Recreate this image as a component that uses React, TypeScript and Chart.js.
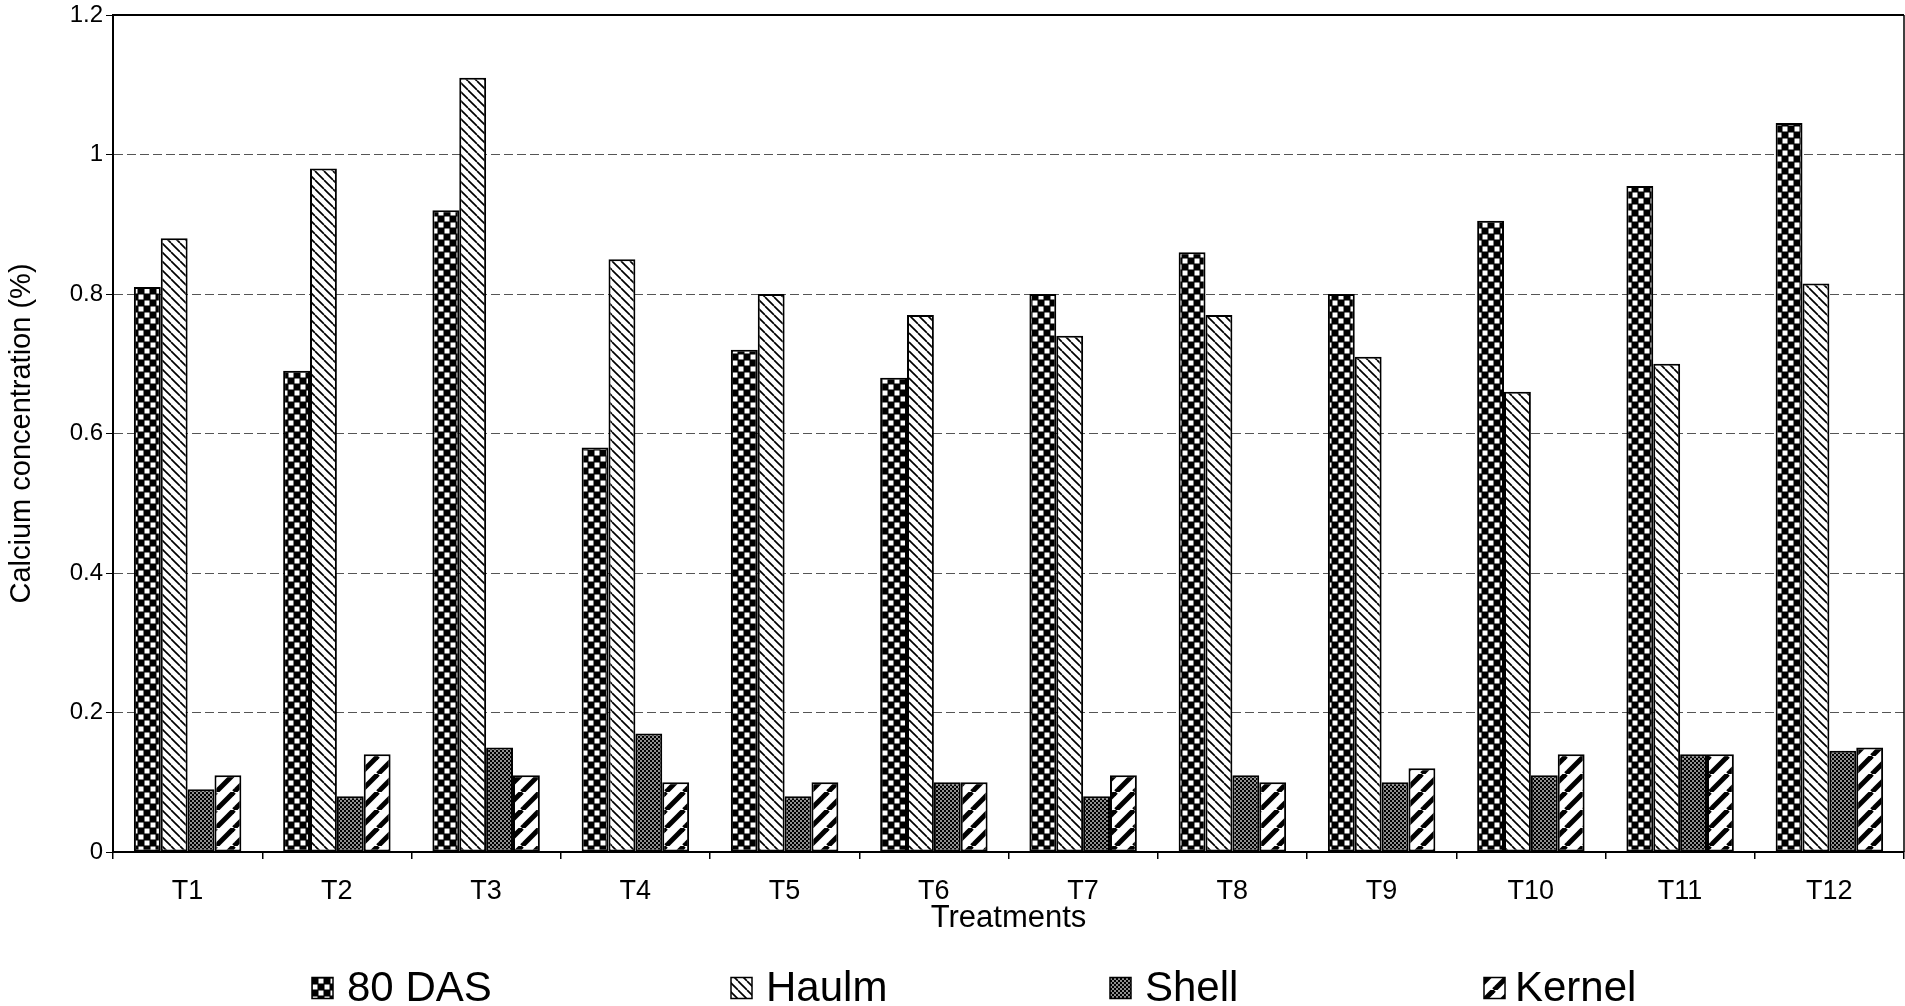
import React, { useEffect, useRef } from 'react';
import { Chart, registerables } from 'chart.js';

Chart.register(...registerables);

// Calcium concentration (%) per treatment and plant part
const treatments = ['T1', 'T2', 'T3', 'T4', 'T5', 'T6', 'T7', 'T8', 'T9', 'T10', 'T11', 'T12'];
const seriesNames = ['80 DAS', 'Haulm', 'Shell', 'Kernel'];
const das80 = [0.81, 0.69, 0.92, 0.58, 0.72, 0.68, 0.8, 0.86, 0.8, 0.905, 0.955, 1.045];
const haulm = [0.88, 0.98, 1.11, 0.85, 0.8, 0.77, 0.74, 0.77, 0.71, 0.66, 0.7, 0.815];
const shell = [0.09, 0.08, 0.15, 0.17, 0.08, 0.1, 0.08, 0.11, 0.1, 0.11, 0.14, 0.145];
const kernel = [0.11, 0.14, 0.11, 0.1, 0.1, 0.1, 0.11, 0.1, 0.12, 0.14, 0.14, 0.15];
const yMin = 0;
const yMax = 1.2;
const yStep = 0.2;

const FONT = '"Liberation Sans", Arial, Helvetica, sans-serif';

type PatternKind = 'checker' | 'back' | 'fine' | 'fwd';

function makePattern(kind: PatternKind): CanvasPattern {
  const c = document.createElement('canvas');
  const g = c.getContext('2d')!;
  if (kind === 'checker') {
    const s = 12;
    c.width = s; c.height = s;
    g.fillStyle = '#000';
    g.fillRect(0, 0, s, s);
    g.fillStyle = '#fff';
    g.fillRect(0.5, 0.5, 5, 5);
    g.fillRect(6.5, 6.5, 5, 5);
  } else if (kind === 'back') {
    const s = 9;
    c.width = s; c.height = s;
    g.fillStyle = '#fff';
    g.fillRect(0, 0, s, s);
    g.strokeStyle = '#000';
    g.lineWidth = 1.7;
    for (const k of [-s, 0, s]) {
      g.beginPath();
      g.moveTo(k, 0);
      g.lineTo(k + s, s);
      g.stroke();
    }
  } else if (kind === 'fine') {
    const s = 4;
    c.width = s; c.height = s;
    g.fillStyle = '#000';
    g.fillRect(0, 0, s, s);
    g.fillStyle = '#fff';
    g.fillRect(0.25, 0.25, 1.5, 1.5);
    g.fillRect(2.25, 2.25, 1.5, 1.5);
  } else {
    const s = 18;
    c.width = s; c.height = s;
    g.fillStyle = '#fff';
    g.fillRect(0, 0, s, s);
    g.strokeStyle = '#000';
    g.lineWidth = 5;
    for (const k of [-s, 0, s]) {
      g.beginPath();
      g.moveTo(k, s);
      g.lineTo(k + s, 0);
      g.stroke();
    }
  }
  return g.createPattern(c, 'repeat')!;
}

export default function App() {
  const canvasRef = useRef<HTMLCanvasElement | null>(null);

  useEffect(() => {
    const canvas = canvasRef.current;
    if (!canvas) return;

    const fills = [
      makePattern('checker'),
      makePattern('back'),
      makePattern('fine'),
      makePattern('fwd'),
    ];
    const values = [das80, haulm, shell, kernel];

    // Frame around the plot (top and right edges)
    const framePlugin = {
      id: 'frame',
      afterDatasetsDraw(chart: any) {
        const { ctx, chartArea } = chart;
        ctx.save();
        ctx.strokeStyle = '#000';
        ctx.lineWidth = 2;
        ctx.beginPath();
        ctx.moveTo(chartArea.left, chartArea.top);
        ctx.lineTo(chartArea.right, chartArea.top);
        ctx.stroke();
        ctx.lineWidth = 1.5;
        ctx.beginPath();
        ctx.moveTo(chartArea.right, chartArea.top);
        ctx.lineTo(chartArea.right, chartArea.bottom);
        ctx.stroke();
        ctx.restore();
      },
    };

    // Legend row under the axis title
    const legendPlugin = {
      id: 'bottomLegend',
      afterDraw(chart: any) {
        const { ctx } = chart;
        const boxX = [312, 731, 1110, 1484];
        const gap = [14, 14, 14, 10];
        const cy = 988;
        const box = 21;
        ctx.save();
        ctx.font = `42px ${FONT}`;
        ctx.textBaseline = 'middle';
        ctx.textAlign = 'left';
        chart.data.datasets.forEach((ds: any, i: number) => {
          const x = boxX[i];
          ctx.fillStyle = ds.backgroundColor;
          ctx.fillRect(x, cy - box / 2, box, box);
          ctx.strokeStyle = '#000';
          ctx.lineWidth = 1.5;
          ctx.strokeRect(x, cy - box / 2, box, box);
          ctx.fillStyle = '#000';
          ctx.fillText(ds.label, x + box + gap[i], cy + 1);
        });
        ctx.restore();
      },
    };

    const chart = new Chart(canvas, {
      type: 'bar',
      data: {
        labels: treatments,
        datasets: seriesNames.map((name, i) => ({
          label: name,
          data: values[i],
          backgroundColor: fills[i] as any,
          borderColor: '#000',
          borderWidth: 2,
          borderSkipped: false,
          categoryPercentage: 0.72,
          barPercentage: 1.0,
        })),
      },
      options: {
        animation: false,
        responsive: false,
        devicePixelRatio: 1,
        layout: { padding: { top: 15, right: 1, bottom: 0, left: 0 } },
        plugins: {
          legend: { display: false },
          tooltip: { enabled: false },
        },
        scales: {
          x: {
            type: 'category',
            offset: true,
            grid: {
              display: true,
              offset: true,
              drawOnChartArea: false,
              drawTicks: true,
              tickLength: 7,
              color: '#000',
              tickColor: '#000',
              lineWidth: 1.5,
            },
            border: { display: true, color: '#000', width: 2 },
            ticks: {
              color: '#000',
              font: { family: FONT, size: 27 },
              padding: 16,
              maxRotation: 0,
              autoSkip: false,
            },
            title: {
              display: true,
              text: 'Treatments',
              color: '#000',
              font: { family: FONT, size: 31 },
              padding: { top: 0, bottom: 69 },
            },
            afterFit(scale: any) {
              scale.height = 1006 - 852;
              scale.paddingLeft = 0;
              scale.paddingRight = 0;
            },
          },
          y: {
            min: yMin,
            max: yMax,
            grid: {
              color: (c: any) => (c.tick && c.tick.value === 0 ? 'rgba(0,0,0,0)' : '#555'),
              tickColor: '#000',
              lineWidth: 1,
              tickLength: 7,
              drawTicks: true,
            },
            border: { display: true, color: '#000', width: 2, dash: [9, 4] },
            ticks: {
              stepSize: yStep,
              color: '#000',
              font: { family: FONT, size: 24 },
              padding: 3,
              callback: (v: any) => String(Number(Number(v).toFixed(1))),
            },
            title: {
              display: true,
              text: 'Calcium concentration (%)',
              color: '#000',
              font: { family: FONT, size: 29 },
              padding: { top: 5, bottom: 0 },
            },
            afterFit(scale: any) {
              scale.width = 113;
              scale.paddingTop = 0;
              scale.paddingBottom = 0;
            },
          },
        },
      },
      plugins: [framePlugin, legendPlugin],
    });

    return () => chart.destroy();
  }, []);

  return (
    <div style={{ position: 'fixed', left: 0, top: 0, width: 1905, height: 1006, background: '#fff' }}>
      <canvas ref={canvasRef} width={1905} height={1006} style={{ display: 'block' }} />
    </div>
  );
}
